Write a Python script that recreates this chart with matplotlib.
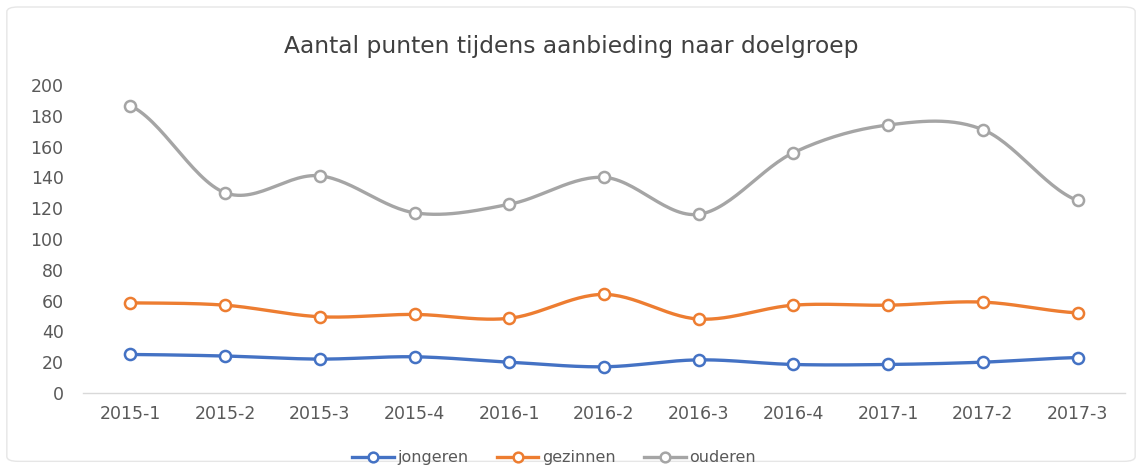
import numpy as np
import matplotlib
matplotlib.use("Agg")
import matplotlib.pyplot as plt
from matplotlib.patches import FancyBboxPatch

periods = ["2015-1", "2015-2", "2015-3", "2015-4", "2016-1", "2016-2",
           "2016-3", "2016-4", "2017-1", "2017-2", "2017-3"]
jongeren = [25, 24, 22, 23.5, 20, 17, 21.5, 18.5, 18.5, 20, 23]
gezinnen = [58.5, 57, 49.5, 51, 48.5, 64, 48, 57, 57, 59, 52]
ouderen = [186.5, 130, 141, 117, 122.5, 140, 116, 156, 174, 171, 125]

series = [("jongeren", jongeren, "#4472C4"),
          ("gezinnen", gezinnen, "#ED7D31"),
          ("ouderen", ouderen, "#A5A5A5")]

TEXT = "#595959"


def smooth_curve(xs, ys, n=30):
    # Catmull-Rom style smoothing, like a spreadsheet "smoothed line"
    xs = np.asarray(xs, float)
    ys = np.asarray(ys, float)
    px = np.concatenate([[2 * xs[0] - xs[1]], xs, [2 * xs[-1] - xs[-2]]])
    py = np.concatenate([[ys[0]], ys, [ys[-1]]])
    out_x, out_y = [], []
    t = np.linspace(0, 1, n, endpoint=False)
    for i in range(1, len(px) - 2):
        p0, p1, p2, p3 = py[i - 1], py[i], py[i + 1], py[i + 2]
        x1, x2 = px[i], px[i + 1]
        c1 = p1 + (p2 - p0) / 6
        c2 = p2 - (p3 - p1) / 6
        yy = ((1 - t) ** 3 * p1 + 3 * (1 - t) ** 2 * t * c1
              + 3 * (1 - t) * t ** 2 * c2 + t ** 3 * p2)
        out_x.extend(x1 + (x2 - x1) * t)
        out_y.extend(yy)
    out_x.append(xs[-1])
    out_y.append(ys[-1])
    return np.array(out_x), np.array(out_y)


fig = plt.figure(figsize=(11.42, 4.66), dpi=100)
fig.patches.append(FancyBboxPatch((0.006, 0.01), 0.988, 0.975,
                                  boxstyle="round,pad=0,rounding_size=0.01",
                                  transform=fig.transFigure, fill=False,
                                  edgecolor="#E6E6E6", linewidth=1))
ax = fig.add_axes([0.0727, 0.1567, 0.9123, 0.661])

x = np.arange(len(periods))
handles = []
for name, vals, color in series:
    sx, sy = smooth_curve(x, vals)
    ax.plot(sx, sy, color=color, linewidth=2.4, solid_capstyle="round", zorder=2)
    ax.plot(x, vals, linestyle="none", marker="o", markersize=8,
            markerfacecolor="white", markeredgecolor=color,
            markeredgewidth=1.8, zorder=3)
    h, = ax.plot([], [], color=color, linewidth=2.4, marker="o", markersize=7,
                 markerfacecolor="white", markeredgecolor=color,
                 markeredgewidth=1.8, label=name)
    handles.append(h)

ax.set_xlim(-0.5, len(periods) - 0.5)
ax.set_ylim(0, 200)
ax.set_yticks(range(0, 201, 20))
ax.set_xticks(x)
ax.set_xticklabels(periods)
ax.tick_params(axis="both", length=0, labelsize=12.5, colors=TEXT)
ax.tick_params(axis="x", pad=9)
ax.tick_params(axis="y", pad=14)
for s in ["top", "right", "left"]:
    ax.spines[s].set_visible(False)
ax.spines["bottom"].set_color("#D9D9D9")
ax.spines["bottom"].set_linewidth(1)

fig.text(0.5, 0.9, "Aantal punten tijdens aanbieding naar doelgroep",
         ha="center", va="center", fontsize=16.8, color="#404040")

fig.legend(handles=handles, loc="center", bbox_to_anchor=(0.485, 0.018),
           ncol=3, frameon=False, fontsize=11.5, labelcolor=TEXT,
           handlelength=2.6, columnspacing=1.8, handletextpad=0.2)

fig.savefig("out.png", dpi=100, facecolor="white")
